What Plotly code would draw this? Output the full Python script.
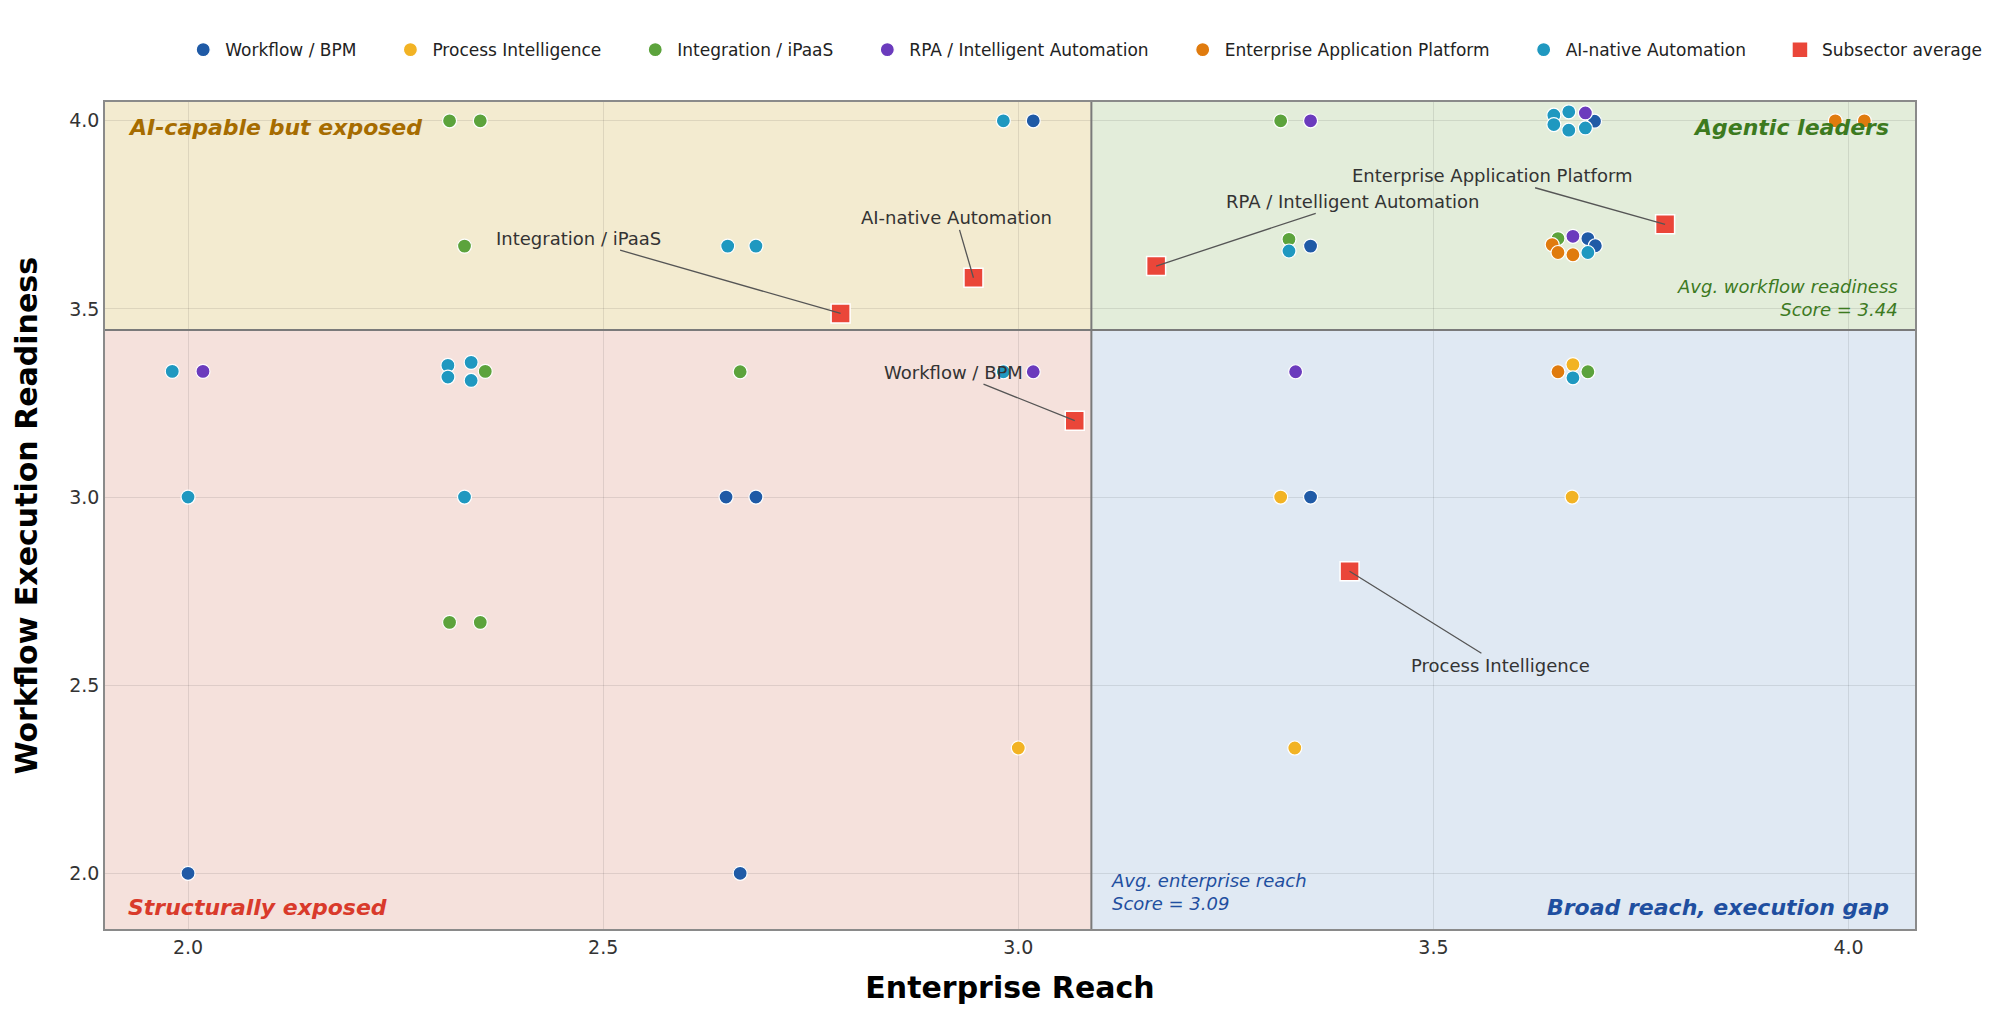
import plotly.graph_objects as go

# ---------------- data ----------------
subsectors = ["Workflow / BPM", "Process Intelligence", "Integration / iPaaS",
              "RPA / Intelligent Automation", "Enterprise Application Platform",
              "AI-native Automation"]
colors = ["#1f5aa6", "#f2b324", "#5ca33c", "#6b3bbd", "#e07b0e", "#1f98c0"]

workflow_reach = [3.018, 3.694, 3.352, 3.686, 3.695, 2.648, 2.684, 3.352, 2.000, 2.665]
workflow_ready = [4.000, 3.999, 3.667, 3.687, 3.668, 3.000, 3.000, 3.000, 2.000, 2.000]

process_reach = [3.668, 3.316, 3.667, 3.000, 3.333]
process_ready = [3.352, 3.000, 3.000, 2.333, 2.333]

integration_reach = [2.315, 2.352, 3.316, 2.333, 3.326, 3.650, 2.358, 2.665, 3.686, 2.315, 2.352]
integration_ready = [4.000, 4.000, 4.000, 3.667, 3.685, 3.687, 3.334, 3.333, 3.333, 2.667, 2.667]

rpa_reach = [3.352, 3.683, 3.668, 2.018, 3.018, 3.334]
rpa_ready = [4.000, 4.021, 3.693, 3.334, 3.333, 3.333]

eap_reach = [3.984, 4.019, 3.643, 3.650, 3.668, 3.650]
eap_ready = [4.000, 4.000, 3.671, 3.650, 3.644, 3.333]

ai_reach = [2.982, 3.645, 3.663, 3.645, 3.663, 3.683, 2.650, 2.684, 3.326, 3.686,
            1.981, 2.313, 2.313, 2.341, 2.341, 2.982, 2.000, 2.333, 3.668]
ai_ready = [4.000, 4.015, 4.024, 3.990, 3.975, 3.981, 3.667, 3.667, 3.654, 3.650,
            3.334, 3.350, 3.319, 3.358, 3.310, 3.333, 3.000, 3.000, 3.317]

avg_reach = [3.068, 3.399, 2.786, 3.166, 3.779, 2.946]
avg_ready = [3.203, 2.803, 3.488, 3.614, 3.725, 3.583]
# label positions for the averages (data coords)
label_reach = [2.922, 3.581, 2.470, 3.402, 3.571, 2.925]
label_ready = [3.332, 2.553, 3.688, 3.786, 3.854, 3.742]

mean_reach = 3.088
mean_ready = 3.444

x_ticks = [2.0, 2.5, 3.0, 3.5, 4.0]
y_ticks = [2.0, 2.5, 3.0, 3.5, 4.0]
x_range = [1.9, 4.08]
y_range = [1.852, 4.05]

series_reach = [workflow_reach, process_reach, integration_reach, rpa_reach, eap_reach, ai_reach]
series_ready = [workflow_ready, process_ready, integration_ready, rpa_ready, eap_ready, ai_ready]

FONT = "DejaVu Sans"
PAD = "\u00a0" * 5

fig = go.Figure()

for name, col, xs, ys in zip(subsectors, colors, series_reach, series_ready):
    fig.add_trace(go.Scatter(
        x=xs, y=ys, mode="markers", name=name + PAD,
        marker=dict(size=14, color=col, line=dict(color="white", width=1.2)),
    ))

fig.add_trace(go.Scatter(
    x=avg_reach, y=avg_ready, mode="markers", name="Subsector average",
    marker=dict(size=19, symbol="square", color="#ea4639", line=dict(color="white", width=1.5)),
))

# quadrant shading
quads = [
    (x_range[0], mean_reach, mean_ready, y_range[1], "#f3ebd0"),
    (mean_reach, x_range[1], mean_ready, y_range[1], "#e3edda"),
    (x_range[0], mean_reach, y_range[0], mean_ready, "#f5e1dc"),
    (mean_reach, x_range[1], y_range[0], mean_ready, "#e0e9f3"),
]
for x0, x1, y0, y1, c in quads:
    fig.add_shape(type="rect", x0=x0, x1=x1, y0=y0, y1=y1, xref="x", yref="y",
                  fillcolor=c, line=dict(width=0), layer="below")

fig.add_shape(type="line", x0=mean_reach, x1=mean_reach, y0=0, y1=1, xref="x", yref="paper",
              line=dict(color="#7a7a7a", width=2), layer="above")
fig.add_shape(type="line", x0=0, x1=1, y0=mean_ready, y1=mean_ready, xref="paper", yref="y",
              line=dict(color="#7a7a7a", width=2), layer="above")

# average labels with leader lines
for name, xs, ys, lx, ly in zip(subsectors, avg_reach, avg_ready, label_reach, label_ready):
    fig.add_annotation(x=xs, y=ys, ax=lx, ay=ly, xref="x", yref="y", axref="x", ayref="y",
                       text=name, showarrow=True, arrowhead=0, arrowwidth=1.3,
                       arrowcolor="#555555", standoff=0,
                       font=dict(family=FONT, size=18, color="#333333"))

# quadrant titles
qfont = dict(family=FONT, size=22)
fig.add_annotation(x=0.0115, y=0.969, xref="paper", yref="paper", xanchor="left", yanchor="middle",
                   text="<b><i>AI-capable but exposed</i></b>", showarrow=False,
                   font=dict(**qfont, color="#a66c00"))
fig.add_annotation(x=0.987, y=0.969, xref="paper", yref="paper", xanchor="right", yanchor="middle",
                   text="<b><i>Agentic leaders</i></b>", showarrow=False,
                   font=dict(**qfont, color="#3d7a1f"))
fig.add_annotation(x=0.0115, y=0.0266, xref="paper", yref="paper", xanchor="left", yanchor="middle",
                   text="<b><i>Structurally exposed</i></b>", showarrow=False,
                   font=dict(**qfont, color="#d93a2b"))
fig.add_annotation(x=0.987, y=0.0266, xref="paper", yref="paper", xanchor="right", yanchor="middle",
                   text="<b><i>Broad reach, execution gap</i></b>", showarrow=False,
                   font=dict(**qfont, color="#1f4fa0"))

# average notes
fig.add_annotation(x=0.9915, y=mean_ready + 0.02, xref="paper", yref="y", xanchor="right", yanchor="bottom",
                   text="<i>Avg. workflow readiness</i><br><i>Score = %.2f</i>" % mean_ready,
                   showarrow=False, align="right",
                   font=dict(family=FONT, size=18, color="#3d7a1f"))
fig.add_annotation(x=mean_reach + 0.021, y=1.95, xref="x", yref="y", xanchor="left", yanchor="middle",
                   text="<i>Avg. enterprise reach</i><br><i>Score = %.2f</i>" % mean_reach,
                   showarrow=False, align="left",
                   font=dict(family=FONT, size=18, color="#1f4fa0"))

# y-axis title as rotated annotation
fig.add_annotation(x=-0.0436, y=0.5, xref="paper", yref="paper", xanchor="center", yanchor="middle",
                   text="<b>Workflow Execution Readiness</b>", textangle=-90, showarrow=False,
                   font=dict(family=FONT, size=30, color="black"))

axis_common = dict(showline=True, mirror=True, linecolor="#8a8a8a", linewidth=1.5,
                   showgrid=True, gridcolor="rgba(0,0,0,0.09)", gridwidth=1,
                   zeroline=False, ticks="", tickformat=".1f",
                   tickfont=dict(family=FONT, size=19, color="#333333"))

fig.update_xaxes(range=x_range, tickvals=x_ticks,
                 title=dict(text="<b>Enterprise Reach</b>", font=dict(family=FONT, size=30, color="black"),
                            standoff=20),
                 **axis_common)
fig.update_yaxes(range=y_range, tickvals=y_ticks, **axis_common)

fig.update_layout(
    width=2000, height=1022,
    paper_bgcolor="white", plot_bgcolor="white",
    margin=dict(l=105, r=85, t=102, b=93),
    font=dict(family=FONT),
    showlegend=True,
    legend=dict(orientation="h", x=0.541, xanchor="center", y=1.041, yanchor="bottom",
                font=dict(family=FONT, size=17, color="#222222"),
                itemsizing="trace", itemwidth=34, bgcolor="rgba(0,0,0,0)"),
)

fig.write_html("out.html")
